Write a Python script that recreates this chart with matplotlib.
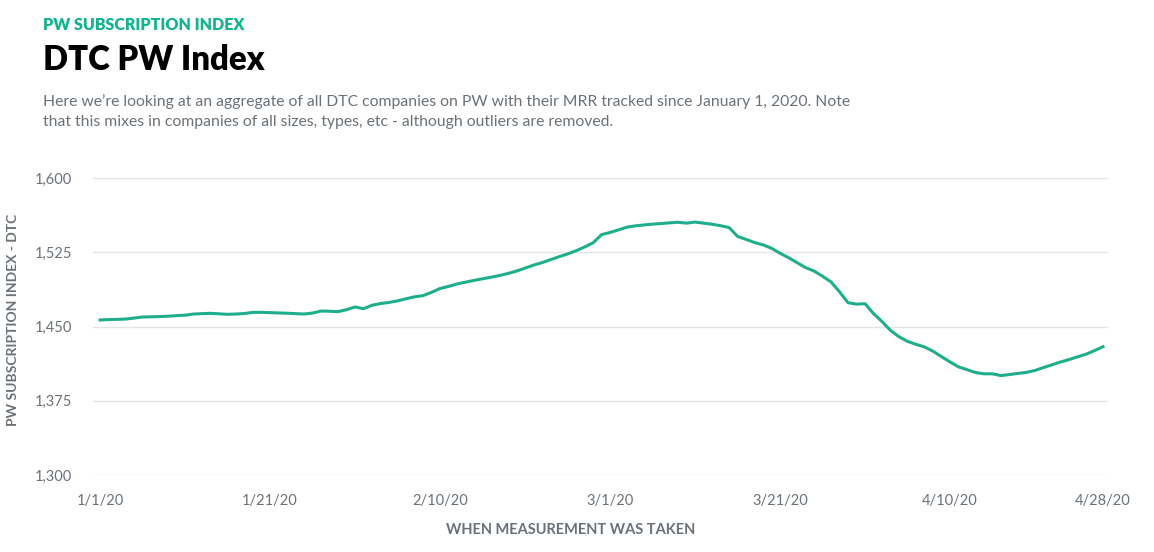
import numpy as np
import pandas as pd
import matplotlib
matplotlib.use("Agg")
import matplotlib.pyplot as plt
from matplotlib.ticker import FuncFormatter

# daily index values (1/1/20 .. 4/28/20)
start_date = "2020-01-01"
index_values = [
    1456.6, 1457.0, 1457.2, 1457.5, 1458.5, 1459.6, 1459.8, 1460.0, 1460.4, 1461.0,
    1461.4, 1462.6, 1463.0, 1463.3, 1462.8, 1462.3, 1462.6, 1463.1, 1464.3, 1464.3,
    1464.0, 1463.7, 1463.4, 1463.0, 1462.6, 1463.6, 1465.6, 1465.4, 1465.0, 1467.0,
    1469.7, 1468.0, 1471.5, 1473.2, 1474.3, 1475.9, 1478.0, 1480.0, 1481.2, 1484.5,
    1488.4, 1490.5, 1493.0, 1494.8, 1496.6, 1498.2, 1499.8, 1501.5, 1503.6, 1506.0,
    1509.0, 1512.0, 1514.5, 1517.5, 1520.5, 1523.3, 1526.5, 1530.3, 1534.5, 1542.8,
    1545.0, 1547.6, 1550.4, 1551.7, 1552.6, 1553.4, 1554.0, 1554.7, 1555.3, 1554.4,
    1555.5, 1554.4, 1553.3, 1551.8, 1550.0, 1541.0, 1538.0, 1534.8, 1532.5, 1529.0,
    1524.0, 1519.5, 1514.5, 1509.5, 1506.0, 1500.8, 1495.0, 1485.0, 1474.0, 1472.6,
    1473.0, 1463.0, 1455.0, 1446.0, 1439.6, 1435.0, 1432.0, 1429.3, 1425.0, 1419.5,
    1414.2, 1409.2, 1406.4, 1403.5, 1402.2, 1402.2, 1400.4, 1401.5, 1402.6, 1403.7,
    1405.6, 1408.6, 1411.3, 1414.2, 1416.6, 1419.4, 1422.0, 1425.7, 1429.6,
]
y_ticks = [1300, 1375, 1450, 1525, 1600]
x_tick_dates = ["2020-01-01", "2020-01-21", "2020-02-10", "2020-03-01",
                "2020-03-21", "2020-04-10", "2020-04-28"]
x_tick_labels = ["1/1/20", "1/21/20", "2/10/20", "3/1/20", "3/21/20", "4/10/20", "4/28/20"]

dates = pd.date_range(start_date, periods=len(index_values), freq="D")

teal = "#1fae8c"
gray = "#6b7178"
plt.rcParams["font.family"] = ["Lato", "DejaVu Sans"]

W, H = 1154, 552
fig = plt.figure(figsize=(W / 100, H / 100), dpi=100)
ax = fig.add_axes([93 / W, 1 - 475 / H, (1108 - 93) / W, (475 - 178) / H])

ax.plot(dates, index_values, color=teal, lw=2.2, solid_joinstyle="round")

ax.set_ylim(1300, 1600)
ax.set_yticks(y_ticks)
ax.yaxis.set_major_formatter(FuncFormatter(lambda v, p: "{:,.0f}".format(v)))
ax.set_xlim(dates[0] - pd.Timedelta(hours=20), dates[-1] + pd.Timedelta(hours=14))
ax.set_xticks(pd.to_datetime(x_tick_dates))
ax.set_xticklabels(x_tick_labels)

ax.grid(axis="y", color="#e4e4e4", lw=1)
ax.set_axisbelow(True)
for s in ax.spines.values():
    s.set_visible(False)
ax.tick_params(axis="both", length=0, colors=gray, labelsize=10.5)
ax.tick_params(axis="y", pad=15)
ax.tick_params(axis="x", pad=14)

# axis titles
fig.text(13 / W, 1 - 320 / H, "PW SUBSCRIPTION INDEX - DTC", color=gray, fontsize=10,
         fontweight="bold", rotation=90, ha="center", va="center")
fig.text(571 / W, 1 - 530 / H, "WHEN MEASUREMENT WAS TAKEN", color=gray, fontsize=10.5,
         fontweight="bold", ha="center", va="center")

# header texts
fig.text(43 / W, 1 - 25 / H, "PW SUBSCRIPTION INDEX", color="#12b48f",
         fontsize=11.5, fontweight="heavy", va="center")
fig.text(43 / W, 1 - 60 / H, "DTC PW Index", color="black",
         fontsize=23.7, fontweight="heavy", va="center")
fig.text(43 / W, 1 - 102 / H,
         "Here we\u2019re looking at an aggregate of all DTC companies on PW with their MRR tracked since January 1, 2020. Note",
         color=gray, fontsize=11.3, va="center")
fig.text(43 / W, 1 - 122 / H,
         "that this mixes in companies of all sizes, types, etc - although outliers are removed.",
         color=gray, fontsize=11.3, va="center")

fig.savefig("out.png", dpi=100)
